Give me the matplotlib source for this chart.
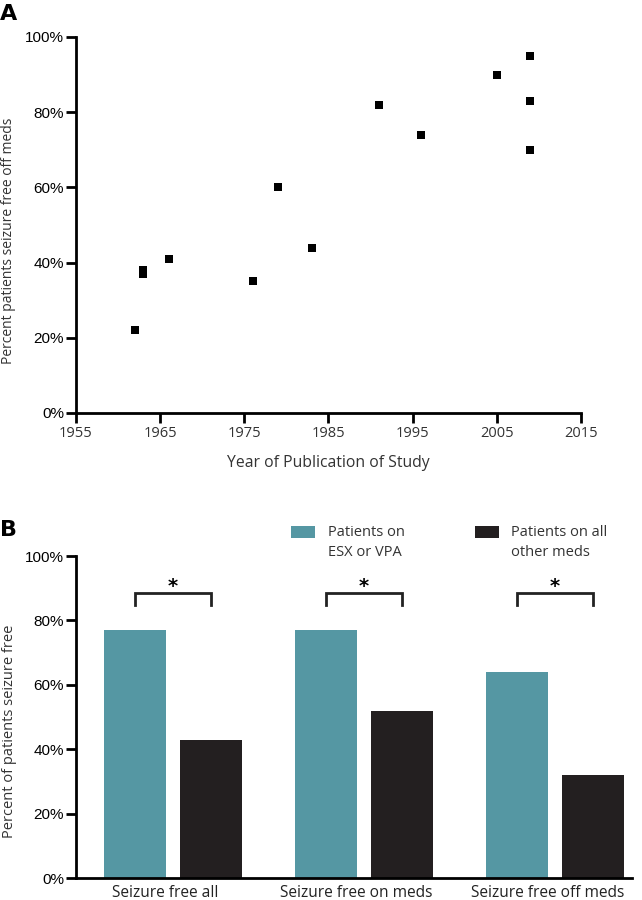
import matplotlib
matplotlib.use('Agg')
import matplotlib.pyplot as plt
from matplotlib.patches import Rectangle
from matplotlib.ticker import FuncFormatter

# panel A: year of study vs percent seizure free off meds
years = [1962, 1963, 1963, 1966, 1976, 1979, 1983, 1991, 1996, 2005, 2009, 2009, 2009]
pct_off = [22, 38, 37, 41, 35, 60, 44, 82, 74, 90, 95, 83, 70]

# panel B: grouped bars
groups = ['Seizure free all', 'Seizure free on meds', 'Seizure free off meds']
esx_vpa = [77, 77, 64]
other_meds = [43, 52, 32]
series_names = ['Patients on\nESX or VPA', 'Patients on all\nother meds']

teal = '#5597a3'
dark = '#231f20'
lab_font = 'Open Sans'
tick_font = 'Liberation Sans'
W, H = 642, 900

fig = plt.figure(figsize=(6.42, 9), dpi=100)
pct = FuncFormatter(lambda v, p: '%d%%' % v)

# ---- A ----
ax1 = fig.add_axes([76/W, 1-413/H, (581-76)/W, (413-37)/H])
ax1.scatter(years, pct_off, marker='s', s=34, color='black', linewidths=0, zorder=3)
ax1.set_xlim(1955, 2015)
ax1.set_ylim(0, 100)
ax1.set_xticks(range(1955, 2016, 10))
ax1.set_yticks(range(0, 101, 20))
ax1.yaxis.set_major_formatter(pct)
for s in ['top', 'right']:
    ax1.spines[s].set_visible(False)
for s in ['left', 'bottom']:
    ax1.spines[s].set_linewidth(2)
ax1.tick_params(width=2, length=7.5, direction='out')
ax1.tick_params(axis='y', pad=1)
ax1.tick_params(axis='x', pad=2)
for t in ax1.get_xticklabels():
    t.set_fontfamily(lab_font); t.set_fontsize(10.5); t.set_color('#333333')
for t in ax1.get_yticklabels():
    t.set_fontfamily(tick_font); t.set_fontsize(11)
ax1.set_xlabel('Year of Publication of Study', fontfamily=lab_font, fontsize=11.3,
               color='#333333', labelpad=10)
ax1.set_ylabel('Percent patients seizure free off meds', fontfamily=lab_font,
               fontsize=10, color='#333333')
ax1.yaxis.set_label_coords(-0.119, 0.459)
fig.text(0.0, 1-4/H, 'A', fontsize=16, fontweight='bold', fontfamily='DejaVu Sans',
         va='top', ha='left')

# ---- B ----
ax2 = fig.add_axes([76/W, 1-878/H, (632-76)/W, (878-556)/H])
x = [0, 1, 2]
w = 0.325
off = 0.2
ax2.bar([i - off for i in x], esx_vpa, width=w, color=teal)
ax2.bar([i + off for i in x], other_meds, width=w, color=dark)
ax2.set_xlim(-0.508, 2.403)
ax2.set_ylim(0, 100)
ax2.set_yticks(range(0, 101, 20))
ax2.yaxis.set_major_formatter(pct)
ax2.set_xticks([i - 0.04 for i in x])
ax2.set_xticklabels(groups, fontfamily=lab_font, fontsize=11.2, color='#222222')
ax2.tick_params(axis='x', length=0, pad=5)
ax2.tick_params(axis='y', width=2, length=7.5, pad=1)
for t in ax2.get_yticklabels():
    t.set_fontfamily(tick_font); t.set_fontsize(11)
for s in ['top', 'right']:
    ax2.spines[s].set_visible(False)
for s in ['left', 'bottom']:
    ax2.spines[s].set_linewidth(2)
ax2.set_ylabel('Percent of patients seizure free', fontfamily=lab_font, fontsize=10.5,
               color='#333333')
ax2.yaxis.set_label_coords(-0.106, 0.457)

# significance brackets
for i in x:
    x0, x1 = i - off, i + off
    ax2.plot([x0, x0, x1, x1], [84.8, 88.5, 88.5, 84.8], color='#222222', lw=2,
             solid_joinstyle='miter', clip_on=False)
    ax2.text(i, 90.5, '*', ha='center', va='center', fontsize=14, fontweight='bold',
             fontfamily='DejaVu Sans')

# legend drawn in figure pixels
for (hx, tx), col, name in zip([(291, 328), (475, 511)], [teal, dark], series_names):
    fig.add_artist(Rectangle((hx/W, 1-538/H), 24/W, 12/H, facecolor=col,
                             edgecolor='none', transform=fig.transFigure))
    fig.text(tx/W, 1-525/H, name, fontfamily=lab_font, fontsize=10.5, color='#333333',
             va='top', ha='left', linespacing=1.45)
fig.text(0.0, 1-520/H, 'B', fontsize=16, fontweight='bold', fontfamily='DejaVu Sans',
         va='top', ha='left')

fig.savefig('out.png', dpi=100)
